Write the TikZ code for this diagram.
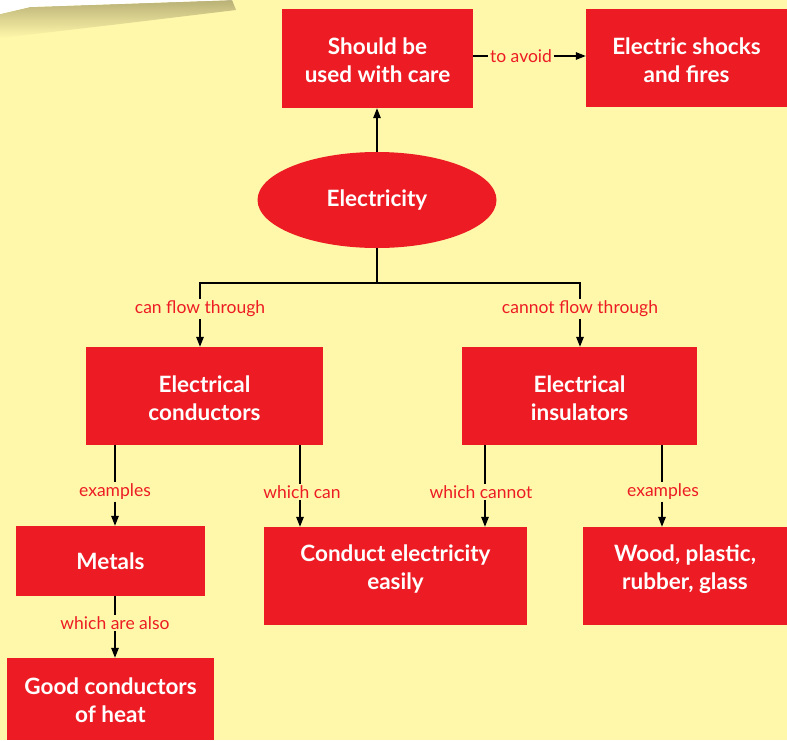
\documentclass[tikz,border=0pt]{standalone}
\usepackage{fontspec}
\setmainfont{Lato}
\usetikzlibrary{shapes.geometric,arrows.meta}
\definecolor{paper}{RGB}{255,248,170}
\definecolor{mapred}{RGB}{237,28,36}
\definecolor{curl}{RGB}{185,176,118}
\tikzset{
  box/.style={fill=mapred, draw=none, text=white, align=center, inner sep=0pt,
    font=\bfseries\fontsize{22.5}{28}\selectfont},
  boxtext/.style={text=white, align=center, inner sep=0pt,
    font=\bfseries\fontsize{22.5}{28}\selectfont},
  blob/.style={ellipse, fill=mapred, draw=none, text=white, inner sep=0pt,
    font=\bfseries\fontsize{22.5}{28}\selectfont},
  tag/.style={text=mapred, inner sep=1.5pt, font=\fontsize{17.5}{20}\selectfont},
  link/.style={draw=black, line width=1.5pt},
  linkarrow/.style={link, -{Triangle[length=10pt,width=7.5pt]}}
}
\begin{document}
\begin{tikzpicture}[x=1pt,y=-1pt]
  % paper sheet
  \fill[paper] (0,0) rectangle (787,740);
  \useasboundingbox (0,0) rectangle (787,740);
  % curled corner of the sheet at the top left
  \shade[top color=curl, bottom color=paper]
    (0,14) -- (30,7) -- (232,0) -- (236,10) -- (120,24) -- (0,38) -- cycle;
  \fill[white] (0,0) -- (234,0) -- (30,7) -- (0,14) -- cycle;

  % concepts (box fills, text placed separately for exact baselines)
  \node[box, minimum width=191pt, minimum height=99pt] (care) at (377.5,58.5) {};
  \node[boxtext] (caretext) at ([yshift=-2pt]care.center)
    {Should be\\used with care};
  \node[box, minimum width=201pt, minimum height=98pt] (shock) at (686.5,58) {};
  \node[boxtext] (shocktext) at ([yshift=-2pt]shock.center)
    {Electric shocks\\and fires};
  \node[blob, minimum width=239pt, minimum height=96pt] (elec) at (377,200)
    {Electricity};
  \node[box, minimum width=237pt, minimum height=98pt] (cond) at (204.5,396) {};
  \node[boxtext] (condtext) at ([yshift=-2.5pt]cond.center)
    {Electrical\\conductors};
  \node[box, minimum width=235pt, minimum height=98pt] (insu) at (579.5,396) {};
  \node[boxtext] (insutext) at ([yshift=-2.5pt]insu.center)
    {Electrical\\insulators};
  \node[box, minimum width=189pt, minimum height=70pt] (metal) at (110.5,561)
    {Metals};
  \node[box, minimum width=263pt, minimum height=98pt] (easy) at (395.5,576) {};
  \node[boxtext] (easytext) at ([yshift=7pt]easy.center)
    {Conduct electricity\\easily};
  \node[box, minimum width=204pt, minimum height=98pt] (wood) at (685,576) {};
  \node[boxtext] (woodtext) at ([yshift=7pt]wood.center)
    {Wood, plastic,\\rubber, glass};
  \node[box, minimum width=207pt, minimum height=82pt] (heat) at (110.5,699) {};
  \node[boxtext] (heattext) at ([yshift=-1pt]heat.center)
    {Good conductors\\of heat};

  % link phrases
  \node[tag] (avoid) at (521,56) {to avoid};
  \node[tag] (canflow) at (200,309) {can flow through};
  \node[tag] (cannotflow) at (580,309) {cannot flow through};
  \node[tag] (exa) at (115,492) {examples};
  \node[tag] (whcan) at (302,492) {which can};
  \node[tag] (whcannot) at (481,492) {which cannot};
  \node[tag] (exb) at (663,492) {examples};
  \node[tag] (also) at (115,623) {which are also};

  % branching point below the ellipse
  \coordinate (fork) at (377,283);

  % connectors
  \draw[linkarrow] (elec.north) -- (care.south -| elec.north);
  \draw[link] (care.east |- avoid) -- (avoid.west);
  \draw[linkarrow] (avoid.east) -- (shock.west |- avoid);

  \draw[link] (elec.south) -- (fork);
  \draw[link] (fork) -| (canflow.north);
  \draw[link] (fork) -| (cannotflow.north);
  \draw[linkarrow] (canflow.south) -- (cond.north -| canflow);
  \draw[linkarrow] (cannotflow.south) -- (insu.north -| cannotflow);

  \draw[link] (cond.south -| exa) -- (exa.north);
  \draw[linkarrow] (exa.south) -- (metal.north -| exa);
  \draw[link] (cond.south -| 300,0) -- (whcan.north -| 300,0);
  \draw[linkarrow] (whcan.south -| 300,0) -- (easy.north -| 300,0);
  \draw[link] (insu.south -| 485,0) -- (whcannot.north -| 485,0);
  \draw[linkarrow] (whcannot.south -| 485,0) -- (easy.north -| 485,0);
  \draw[link] (insu.south -| 662,0) -- (exb.north -| 662,0);
  \draw[linkarrow] (exb.south -| 662,0) -- (wood.north -| 662,0);
  \draw[link] (metal.south -| also) -- (also.north);
  \draw[linkarrow] (also.south) -- (heat.north -| also);
\end{tikzpicture}
\end{document}
